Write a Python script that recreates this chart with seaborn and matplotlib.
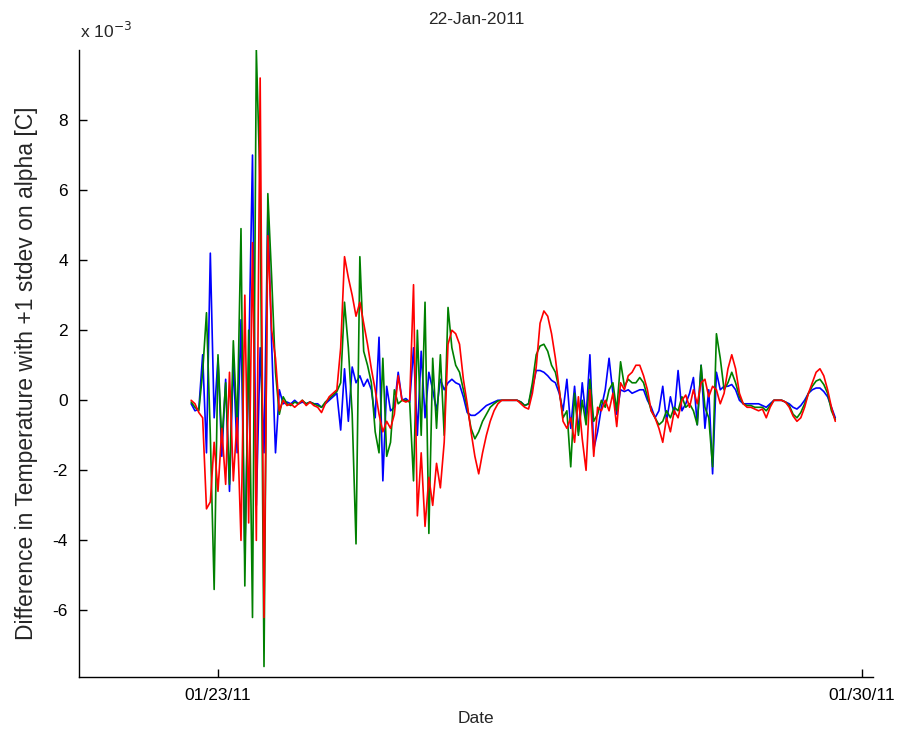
import matplotlib
matplotlib.use("Agg")
import matplotlib.pyplot as plt
import matplotlib.dates as mdates
from matplotlib import font_manager
import pandas as pd
import seaborn as sns

# Hourly temperature differences (units of 1e-3 C), one series per run
start_time = "2011-01-22 17:00"

blue_vals = [
    -0.1, -0.3, -0.25, 1.3, -1.5, 4.2, -0.5, 1.2, -1.6, 0.6,
    -2.6, 1.1, -1.5, 2.3, -4.4, 1.0, 7.0, -3.0, 1.5, -1.5,
    5.4, 1.6, -1.5, 0.3, -0.1, -0.05, -0.1, 0.0, -0.1, -0.05,
    -0.1, -0.05, -0.1, -0.1, -0.2, -0.1, 0.0, 0.1, 0.2, -0.85,
    0.9, -0.6, 0.95, 0.5, 0.7, 0.4, 0.6, 0.3, -0.5, 1.8,
    -2.3, 0.4, -0.3, -0.2, 0.8, 0.0, 0.05, -0.05, 1.5, -1.0,
    1.4, -0.5, 0.8, 0.3, -0.3, 0.6, 0.3, 0.5, 0.6, 0.5,
    0.45, 0.1, -0.35, -0.43, -0.43, -0.35, -0.25, -0.15, -0.1, -0.05,
    0.0, 0.0, 0.0, 0.0, 0.0, 0.0, -0.05, -0.15, -0.1, 0.35,
    0.85, 0.85, 0.8, 0.7, 0.57, 0.5, 0.2, -0.3, 0.6, -0.8,
    0.4, -0.9, 0.5, -0.5, 1.3, -1.4, -0.9, -0.2, 0.3, 1.2,
    0.2, -0.4, 0.3, 0.25, 0.3, 0.2, 0.25, 0.3, 0.3, 0.0,
    -0.2, -0.5, -0.3, 0.4, -0.6, 0.1, -0.4, 0.85, -0.3, -0.1,
    0.2, 0.65, -0.7, 1.0, -0.8, 0.3, -2.1, 0.8, 0.3, 0.4,
    0.4, 0.45, 0.3, 0.0, -0.1, -0.1, -0.1, -0.1, -0.1, -0.15,
    -0.2, -0.1, 0.0, 0.0, 0.0, -0.05, -0.1, -0.2, -0.25, -0.15,
    0.0, 0.2, 0.3, 0.35, 0.35, 0.25, 0.1, -0.2, -0.5,
]

green_vals = [
    -0.05, -0.2, -0.3, 0.8, 2.5, -1.0, -5.4, 1.3, -1.2, 0.5,
    -2.4, 1.7, -0.8, 4.9, -5.3, 2.0, -6.2, 10.0, 6.0, -7.6,
    5.9, 3.5, 0.8, -0.4, 0.1, -0.1, -0.15, -0.05, -0.1, 0.0,
    -0.1, -0.05, -0.1, -0.15, -0.2, -0.05, 0.05, 0.15, 0.25, 0.5,
    2.8, 1.5, -0.4, -4.1, 4.1, 1.4, 1.0, 0.5, -0.9, -1.5,
    1.2, -1.6, -1.2, 0.3, -0.1, 0.0, 0.0, -0.05, -2.3, 2.0,
    -1.0, 2.8, -3.8, 1.2, -0.8, 1.3, -1.0, 2.65, 1.5, 1.0,
    0.8, 0.3, -0.2, -0.8, -1.1, -0.9, -0.6, -0.4, -0.2, -0.1,
    -0.02, 0.0, 0.0, 0.0, 0.0, 0.0, -0.05, -0.15, -0.1, 0.5,
    1.3, 1.55, 1.6, 1.4, 1.0, 0.8, 0.3, -0.5, -0.3, -1.9,
    0.2, -1.0, 0.0, -0.7, 0.6, -0.6, -0.4, 0.0, -0.2, 0.3,
    0.5, -0.3, 1.1, 0.4, 0.6, 0.5, 0.5, 0.65, 0.5, 0.1,
    -0.3, -0.5, -0.7, -0.6, -0.3, -0.5, -0.2, -0.3, 0.1, -0.2,
    -0.1, -0.3, -0.7, 1.0, -0.2, -0.5, -1.9, 1.9, 1.2, 0.3,
    0.5, 0.8, 0.5, 0.1, -0.1, -0.15, -0.15, -0.2, -0.2, -0.2,
    -0.3, -0.15, 0.0, 0.0, 0.0, -0.05, -0.15, -0.4, -0.5, -0.35,
    -0.1, 0.2, 0.4, 0.55, 0.6, 0.45, 0.2, -0.3, -0.55,
]

red_vals = [
    0.0, -0.1, -0.35, -0.5, -3.1, -2.9, -1.2, -2.6, -0.8, -2.4,
    0.8, -2.3, -0.5, -4.0, 3.0, -3.5, 4.5, -4.0, 9.2, -6.2,
    4.7, 2.0, 1.2, -0.3, 0.0, -0.15, -0.1, -0.2, -0.1, 0.0,
    -0.15, -0.05, -0.15, -0.2, -0.35, -0.1, 0.1, 0.2, 0.3, 1.5,
    4.1, 3.5, 3.0, 2.4, 2.8, 2.2, 1.6, 0.9, 0.3, -0.4,
    -0.9, -0.6, -0.8, -0.4, 0.7, 0.0, -0.05, 0.0, 3.3, -3.3,
    -1.5, -3.6, -2.2, -3.0, -1.8, -2.5, -1.2, 1.6, 2.0, 1.9,
    1.6, 0.6, -0.1, -0.9, -1.6, -2.1, -1.5, -1.0, -0.6, -0.3,
    -0.1, 0.0, 0.0, 0.0, 0.0, 0.0, -0.1, -0.2, -0.25, 0.2,
    0.95, 2.2, 2.55, 2.4, 1.9, 1.2, 0.3, -0.6, -0.8, -0.5,
    -1.2, 0.1, -1.1, -2.0, 0.3, -1.6, -0.2, -0.3, 0.0, -0.3,
    0.2, -0.75, 0.5, 0.3, 0.7, 0.8, 1.0, 1.0, 0.7, 0.3,
    -0.3, -0.5, -0.8, -1.2, -0.5, -0.9, -0.3, -0.5, 0.0, 0.15,
    -0.2, 0.3, -0.1, 0.5, 0.6, 0.1, 0.4, 0.3, -0.1, 0.2,
    0.9, 1.3, 0.9, 0.2, -0.1, -0.2, -0.2, -0.25, -0.3, -0.25,
    -0.5, -0.2, 0.0, 0.0, 0.0, -0.05, -0.2, -0.45, -0.6, -0.5,
    -0.2, 0.2, 0.5, 0.8, 0.9, 0.7, 0.3, -0.2, -0.6,
]

run_names = ["b", "g", "r"]
run_colors = {"b": "#0000ff", "g": "#008000", "r": "#ff0000"}
x_tick_dates = ["2011-01-23", "2011-01-30"]
y_tick_values = [-6, -4, -2, 0, 2, 4, 6, 8]

times = pd.date_range(start_time, periods=len(blue_vals), freq="h")
frames = []
for name, vals in zip(run_names, [blue_vals, green_vals, red_vals]):
    frames.append(pd.DataFrame({"Date": times, "dT": vals, "run": name}))
df = pd.concat(frames, ignore_index=True)

sns.set_theme(style="white")

# Narrow face for horizontal text if one is installed
installed = {f.name for f in font_manager.fontManager.ttflist}
if "Liberation Sans Narrow" in installed:
    text_family, FS = "Liberation Sans Narrow", 15
else:
    text_family, FS = "Liberation Sans", 12.5
plt.rcParams["font.family"] = [text_family, "DejaVu Sans"]
YLABEL_FONT = dict(family=["Liberation Sans", "DejaVu Sans"], size=16.5)

fig = plt.figure(figsize=(9.07, 7.42), dpi=100)
ax = fig.add_axes([0.0871, 0.0876, 0.8754, 0.845])

sns.lineplot(data=df, x="Date", y="dT", hue="run", hue_order=run_names,
             palette=run_colors, estimator=None, linewidth=1.2,
             legend=False, ax=ax)

ax.set_xlim(pd.Timestamp("2011-01-21 11:45"), pd.Timestamp("2011-01-30 02:50"))
ax.set_ylim(-7.9, 10.0)
ax.set_xticks([pd.Timestamp(d) for d in x_tick_dates])
ax.xaxis.set_major_formatter(mdates.DateFormatter("%m/%d/%y"))
ax.set_yticks(y_tick_values)
ax.set_yticklabels([str(v) for v in y_tick_values])

for side in ("top", "right"):
    ax.spines[side].set_visible(False)
for side in ("left", "bottom"):
    ax.spines[side].set_color("black")
    ax.spines[side].set_linewidth(1.0)

ax.tick_params(direction="in", length=6, width=1.0, colors="black",
               labelsize=FS, left=True, bottom=True)
ax.tick_params(axis="y", pad=8)
ax.tick_params(axis="x", pad=8)

ax.set_xlabel("Date", fontsize=FS, labelpad=6)
ax.set_ylabel("Difference in Temperature with +1 stdev on alpha [C]",
              fontdict=YLABEL_FONT)
ax.yaxis.set_label_coords(-0.052, 0.484)
ax.set_title("22-Jan-2011", fontsize=FS, pad=19)
ax.text(0.001, 1.019, "x 10$^{-3}$", transform=ax.transAxes, fontsize=FS,
        ha="left", va="baseline")

fig.savefig("out.png", dpi=100, facecolor="white")
